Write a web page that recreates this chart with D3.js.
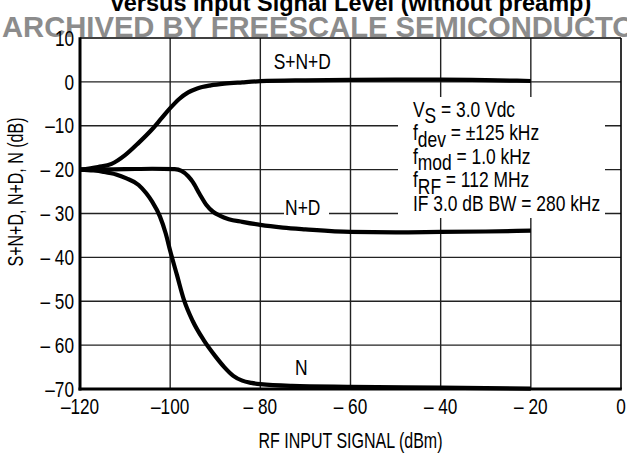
<!DOCTYPE html>
<html>
<head>
<meta charset="utf-8">
<script src="https://cdn.jsdelivr.net/npm/d3@7"></script>
<style>
  html, body { margin: 0; padding: 0; background: #fff; }
  svg { display: block; }
  text.n { font-family: 'Liberation Sans Narrow', 'Liberation Sans', Arial, Helvetica, sans-serif; }
</style>
</head>
<body>
<svg id="chart" width="627" height="457"></svg>
<script>
// ---- data ----
const xTicks = [-120, -100, -80, -60, -40, -20, 0];
const xTickLabels = ["\u2013120", "\u2013100", "\u2013 80", "\u2013 60", "\u2013 40", "\u2013 20", "0"];
const yTicks = [10, 0, -10, -20, -30, -40, -50, -60, -70];
const yTickLabels = ["10", "0", "\u201310", "\u2013 20", "\u2013 30", "\u2013 40", "\u2013 50", "\u2013 60", "\u201370"];

const sndX = [-120, -116, -113, -110, -107, -104, -102, -100, -98, -96, -94, -91, -88, -84, -80, -70, -60, -50, -40, -30, -20];
const sndY = [-20, -19.4, -18.7, -16.7, -13.9, -10.8, -8.4, -6.0, -3.9, -2.4, -1.5, -0.8, -0.4, -0.1, 0.15, 0.35, 0.45, 0.5, 0.5, 0.4, 0.2];

const ndX = [-120, -110, -104, -99, -97.5, -96, -95, -93.5, -92, -90.5, -89, -87, -84, -80, -75, -70, -60, -50, -40, -30, -20];
const ndY = [-20, -19.9, -19.8, -19.9, -20.3, -21.5, -22.8, -25.5, -28, -29.6, -30.5, -31.3, -31.9, -32.6, -33.2, -33.6, -34.2, -34.3, -34.2, -34.1, -33.9];

const nX = [-120, -117, -114.8, -112, -109.7, -107, -105.3, -104, -102.3, -101, -100, -98.5, -97, -95, -92.6, -90, -88, -86, -84, -82, -80, -73, -60, -40, -20];
const nY = [-20, -20.2, -20.5, -21.1, -22, -23.5, -25.4, -27.3, -30.6, -34.5, -38.5, -44, -49.5, -54.5, -58.8, -62.5, -65, -67, -68.1, -68.6, -68.9, -69.3, -69.5, -69.7, -69.9];

const seriesNames = ["S+N+D", "N+D", "N"];
const conditions = [
  {main: "V", sub: "S", rest: " = 3.0 Vdc"},
  {main: "f", sub: "dev", rest: " = \u00b1125 kHz"},
  {main: "f", sub: "mod", rest: " = 1.0 kHz"},
  {main: "f", sub: "RF", rest: " = 112 MHz"},
  {main: "IF 3.0 dB BW = 280 kHz", sub: "", rest: ""}
];

// ---- layout ----
const svg = d3.select("#chart");
const pLeft = 80, pRight = 621, pTop = 38, pBottom = 389;
const x = d3.scaleLinear().domain([-120, 0]).range([pLeft, pRight]);
const y = d3.scaleLinear().domain([-70, 10]).range([pBottom, pTop]);
const FS = 21.5;
const TICK_SX = 0.80, TITLE_SX = 0.745, LB_SX = 0.81, AN_SX = 0.81;

svg.append("rect").attr("width", 627).attr("height", 457).attr("fill", "#fff");

// watermark + title
svg.append("text")
  .attr("x", 2).attr("y", 37)
  .attr("font-family", "'Liberation Sans', Arial, Helvetica, sans-serif")
  .attr("font-weight", "bold").attr("font-size", 29.2)
  .attr("fill", "#8c8c8c")
  .text("ARCHIVED BY FREESCALE SEMICONDUCTOR");
svg.append("text")
  .attr("x", 351).attr("y", 11).attr("text-anchor", "middle")
  .attr("font-family", "'Liberation Sans', Arial, Helvetica, sans-serif")
  .attr("font-weight", "bold").attr("font-size", 23.5)
  .attr("fill", "#000")
  .text("versus Input Signal Level (without preamp)");

// grid
const g = svg.append("g");
g.selectAll(".vg").data(xTicks.slice(1, -1)).enter().append("line")
  .attr("x1", d => x(d)).attr("x2", d => x(d))
  .attr("y1", pTop).attr("y2", pBottom)
  .attr("stroke", "#222").attr("stroke-width", 1.4);
g.selectAll(".hg").data(yTicks.slice(1, -1)).enter().append("line")
  .attr("x1", pLeft).attr("x2", pRight)
  .attr("y1", d => y(d)).attr("y2", d => y(d))
  .attr("stroke", "#222").attr("stroke-width", 1.4);

// frame: thin top/right
svg.append("line").attr("x1", pLeft).attr("x2", pRight).attr("y1", pTop).attr("y2", pTop)
  .attr("stroke", "#000").attr("stroke-width", 1.6);
svg.append("line").attr("x1", pRight).attr("x2", pRight).attr("y1", pTop).attr("y2", pBottom)
  .attr("stroke", "#000").attr("stroke-width", 1.6);

// white boxes behind annotation and N+D label
svg.append("rect").attr("x", 398).attr("y", 97).attr("width", 207).attr("height", 121).attr("fill", "#fff");
svg.append("rect").attr("x", 284).attr("y", 198).attr("width", 45).attr("height", 22).attr("fill", "#fff");

// curves
const line = d3.line().x(d => x(d[0])).y(d => y(d[1])).curve(d3.curveMonotoneX);
const series = [d3.zip(sndX, sndY), d3.zip(ndX, ndY), d3.zip(nX, nY)];
svg.selectAll(".curve").data(series).enter().append("path")
  .attr("d", line).attr("fill", "none")
  .attr("stroke", "#000").attr("stroke-width", 4.2)
  .attr("stroke-linecap", "butt").attr("stroke-linejoin", "round");

// thick left/bottom axes
svg.append("line").attr("x1", pLeft).attr("x2", pLeft).attr("y1", pTop - 0.8).attr("y2", pBottom + 1.5)
  .attr("stroke", "#000").attr("stroke-width", 3);
svg.append("line").attr("x1", pLeft - 1.5).attr("x2", pRight + 0.8).attr("y1", pBottom).attr("y2", pBottom)
  .attr("stroke", "#000").attr("stroke-width", 3);

// tick labels
svg.selectAll(".yt").data(yTicks).enter().append("text")
  .attr("class", "n")
  .attr("transform", d => `translate(74,${y(d)}) scale(${TICK_SX},1)`)
  .attr("dy", "0.36em")
  .attr("text-anchor", "end").attr("font-size", FS).attr("fill", "#000")
  .text((d, i) => yTickLabels[i]);
svg.selectAll(".xt").data(xTicks).enter().append("text")
  .attr("class", "n")
  .attr("transform", d => `translate(${x(d)},414) scale(${TICK_SX},1)`)
  .attr("text-anchor", "middle").attr("font-size", FS).attr("fill", "#000")
  .text((d, i) => xTickLabels[i]);

// axis titles
svg.append("text").attr("class", "n")
  .attr("transform", `translate(${(pLeft + pRight) / 2},448) scale(${TITLE_SX},1)`)
  .attr("text-anchor", "middle").attr("font-size", FS)
  .text("RF INPUT SIGNAL (dBm)");
svg.append("text").attr("class", "n")
  .attr("transform", `translate(23,192) rotate(-90) scale(${TITLE_SX},1)`)
  .attr("text-anchor", "middle").attr("font-size", FS)
  .text("S+N+D, N+D, N (dB)");

// series labels
const labelPos = [[-70.7, 3.0], [-70.6, -30.3], [-70.9, -66.8]];
svg.selectAll(".sl").data(seriesNames).enter().append("text")
  .attr("class", "n")
  .attr("transform", (d, i) => `translate(${x(labelPos[i][0])},${y(labelPos[i][1])}) scale(${LB_SX},1)`)
  .attr("text-anchor", "middle").attr("font-size", FS)
  .text(d => d);

// conditions annotation
const ann = svg.append("g").attr("transform", `translate(413,0) scale(${AN_SX},1)`)
  .append("text").attr("class", "n").attr("font-size", FS);
conditions.forEach((c, i) => {
  ann.append("tspan").attr("x", 0).attr("y", 117 + i * 23.5).text(c.main);
  if (c.sub) {
    ann.append("tspan").attr("dy", 6.5).text(c.sub);
    ann.append("tspan").attr("dy", -6.5).text(c.rest);
  }
});
</script>
</body>
</html>
